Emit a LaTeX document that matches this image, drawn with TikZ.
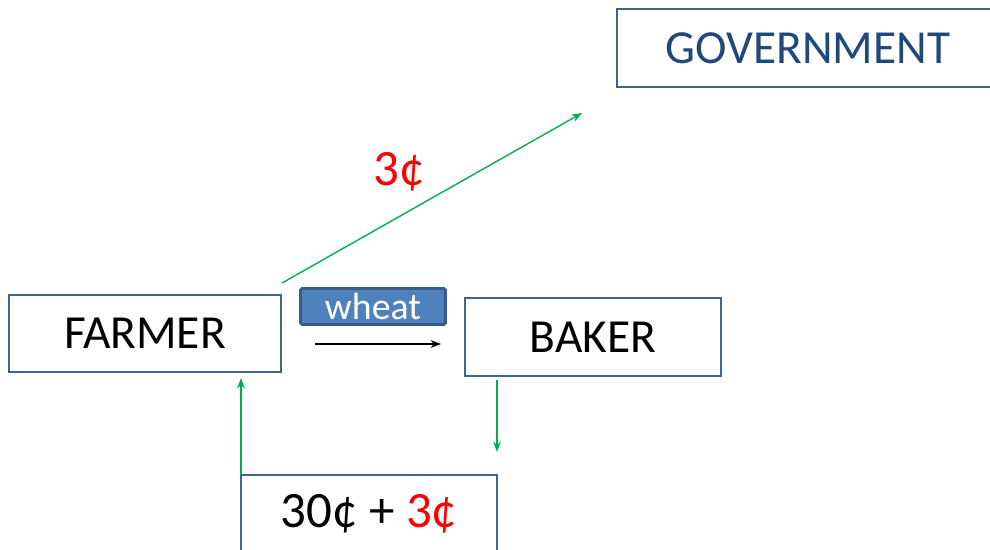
\documentclass[tikz,border=0pt]{standalone}
\usepackage{fontspec}
\setmainfont{Carlito}
\usetikzlibrary{arrows.meta}
\definecolor{boxblue}{HTML}{41648F}
\definecolor{govblue}{HTML}{1F497D}
\definecolor{wheatblue}{HTML}{4F81BD}
\definecolor{wheatedge}{HTML}{385D8A}
\definecolor{flowgreen}{HTML}{00B050}

\begin{document}
\begin{tikzpicture}[x=0.02cm,y=-0.02cm,
  party/.style={draw=boxblue, line width=0.9pt, fill=white, inner sep=0pt,
    minimum width=5.12cm, minimum height=1.56cm, font=\fontsize{27}{32}\selectfont},
  money/.style={flowgreen, line width=0.8pt, -{Stealth[length=6pt,width=4.5pt]}},
  goods/.style={black, line width=0.6pt, -{Stealth[length=6pt,width=4.5pt]}}]
  \clip (0,0) rectangle (990,550);

  % the three parties and the price box
  \node[party, minimum width=7.64cm, text=govblue] (gov) at (808,48) {GOVERNMENT};
  \node[party, minimum width=5.44cm, minimum height=1.54cm] (farmer) at (145,333.5) {FARMER};
  \node[party] (baker) at (593,337) {BAKER};
  \node[party, font=\fontsize{29}{32}\selectfont] (price) at (369,514) {30¢ + {\color{red}3¢}};

  % wheat tag over the goods arrow
  \node[draw=wheatedge, line width=1.7pt, fill=wheatblue, rounded corners=1pt, inner sep=0pt,
    minimum width=2.9cm, minimum height=0.72cm, text=white,
    font=\fontsize{21.5}{24}\selectfont] (wheat) at (373,306.5) {\raisebox{-1pt}{wheat}};

  % loose ends of the arrows
  \coordinate (taxfrom) at (282,283);
  \coordinate (taxto) at (582,113);
  \coordinate (goodsfrom) at (315,344);
  \coordinate (goodsto) at (441,344);
  \coordinate (payfrom) at (497,380);
  \coordinate (payto) at (497,452);
  \coordinate (getfrom) at (241,475);
  \coordinate (getto) at (241,378);

  % flows
  \draw[money] (taxfrom) -- (taxto);
  \draw[goods] (goodsfrom) -- (goodsto);
  \draw[money] (payfrom) -- (payto);
  \draw[money] (getfrom) -- (getto);

  % tax label
  \node[red, font=\fontsize{29}{32}\selectfont] (tax) at (399,172) {3¢};
\end{tikzpicture}
\end{document}
